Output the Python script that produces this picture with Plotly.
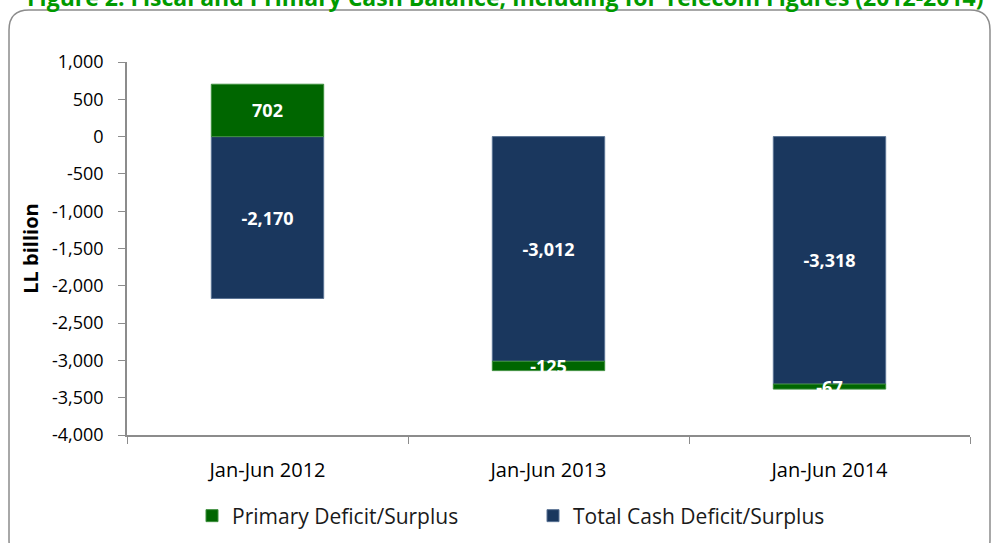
import plotly.graph_objects as go

categories = ["Jan-Jun 2012", "Jan-Jun 2013", "Jan-Jun 2014"]
total_cash = [-2170, -3012, -3318]
primary = [702, -125, -67]
y_ticks = [1000, 500, 0, -500, -1000, -1500, -2000, -2500, -3000, -3500, -4000]

FONT = "Open Sans"
W, H = 992, 543
ML, MR, MT, MB = 127, 22, 62, 108
PW, PH = W - ML - MR, H - MT - MB


def px(x):
    return (x - ML) / PW


def py(y):
    return (H - MB - y) / PH


label_font = dict(family=FONT, size=18, color="white", weight="bold")

fig = go.Figure()
fig.add_trace(go.Bar(
    x=categories, y=total_cash, name="Total Cash Deficit/Surplus",
    marker=dict(color="#1A375E", line=dict(color="#5A7394", width=1)),
    text=[f"{v:,}" for v in total_cash], textposition="inside",
    insidetextanchor="middle", constraintext="none",
    textfont=label_font, width=0.4, legendrank=2,
))
fig.add_trace(go.Bar(
    x=categories, y=primary, name="Primary Deficit/Surplus",
    marker=dict(color="#006600", line=dict(color="#3E8F3E", width=1)),
    text=[f"{v:,}" for v in primary], textposition="inside",
    insidetextanchor="middle", constraintext="none",
    textfont=label_font, width=0.4, legendrank=1,
))

# rounded frame
x0, x1, y0, y1, r = 9, 990, 10, 560, 20
path = (
    f"M {px(x0 + r)},{py(y0)} L {px(x1 - r)},{py(y0)} "
    f"Q {px(x1)},{py(y0)} {px(x1)},{py(y0 + r)} "
    f"L {px(x1)},{py(y1 - r)} Q {px(x1)},{py(y1)} {px(x1 - r)},{py(y1)} "
    f"L {px(x0 + r)},{py(y1)} Q {px(x0)},{py(y1)} {px(x0)},{py(y1 - r)} "
    f"L {px(x0)},{py(y0 + r)} Q {px(x0)},{py(y0)} {px(x0 + r)},{py(y0)} Z"
)
fig.add_shape(type="path", path=path, xref="paper", yref="paper",
              line=dict(color="#8C8C8C", width=1.5), layer="below")

fig.add_annotation(
    text="Figure 2: Fiscal and Primary Cash Balance, Including for Telecom Figures (2012-2014)",
    xref="paper", yref="paper", x=px(505), y=py(-3), xanchor="center", yanchor="middle",
    showarrow=False, font=dict(family=FONT, size=23, color="#009A00", weight="bold"),
)

fig.update_layout(
    width=W, height=H,
    margin=dict(l=ML, r=MR, t=MT, b=MB, autoexpand=False),
    paper_bgcolor="white", plot_bgcolor="white",
    barmode="relative",
    showlegend=True,
    legend=dict(orientation="h", x=px(192), y=py(516), xanchor="left", yanchor="middle",
                font=dict(family=FONT, size=21, color="#1a1a1a"),
                entrywidth=296, entrywidthmode="pixels", traceorder="normal"),
    font=dict(family=FONT, color="black"),
)
fig.update_xaxes(
    showline=True, linecolor="#8C8C8C", linewidth=1.5,
    ticks="outside", tickson="boundaries", ticklen=7, tickcolor="#8C8C8C",
    tickfont=dict(family=FONT, size=20, color="black"), ticklabelstandoff=16,
    showgrid=False, zeroline=False,
)
fig.update_yaxes(
    range=[-4000, 1000], tickvals=y_ticks, ticktext=[f"{v:,}" for v in y_ticks],
    showline=True, linecolor="#8C8C8C", linewidth=1.5,
    ticks="outside", ticklen=7, tickcolor="#8C8C8C",
    tickfont=dict(family=FONT, size=18, color="black"), ticklabelstandoff=11,
    showgrid=False, zeroline=False,
    title=dict(text="LL billion", font=dict(family=FONT, size=20, color="black", weight="bold"),
               standoff=8),
)

fig.write_html("out.html", config={"displayModeBar": False},
               post_script="document.body.style.margin='0';")
